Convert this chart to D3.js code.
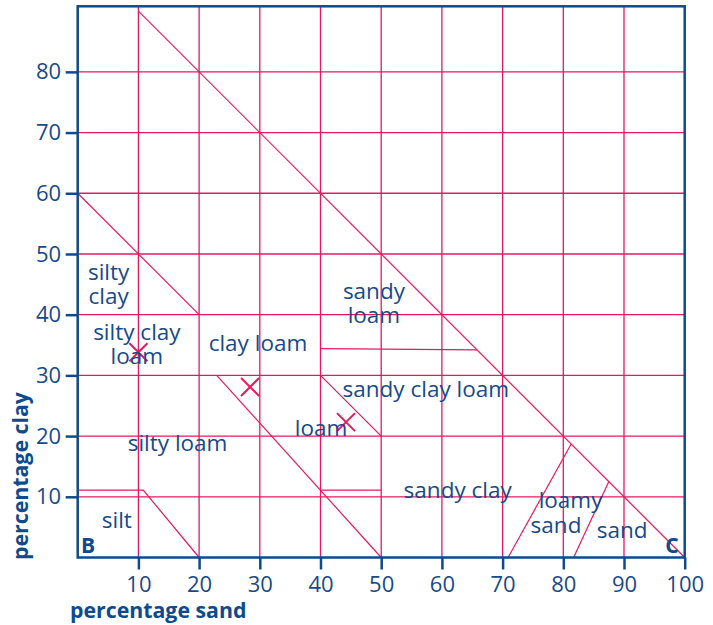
<!DOCTYPE html>
<html><head><meta charset="utf-8">
<script src="https://cdn.jsdelivr.net/npm/d3@7"></script>
<style>body{margin:0;background:#fff}</style>
</head><body>
<svg id="c" width="713" height="625"></svg>
<script>
// ---- data ----
const xTicks = [10,20,30,40,50,60,70,80,90,100];
const yTicks = [10,20,30,40,50,60,70,80];
const gridSand = [10,20,30,40,50,60,70,80,90];
const gridClay = [10,20,30,40,50,60,70,80];
const boundaries = [
  [[10,90],[100,0]],
  [[0,60],[20,40]],
  [[0,11.1],[10.8,11.1],[20,0]],
  [[22.9,30],[50,0]],
  [[40,11.1],[50,11.1]],
  [[40,30],[50,20]],
  [[40,34.4],[65.8,34.2]],
  [[70.9,0],[81.3,18.7]],
  [[81.7,0],[87.5,12.5]]
];
const samples = [[10,33.8],[28.4,28.1],[44.2,22.3]];
const labelLines = [["silty","clay"],["silty clay","loam"],["clay loam"],["sandy","loam"],
  ["sandy clay loam"],["loam"],["silty loam"],["silt"],["sandy clay"],["loamy"],["sand"],["sand"]];
const labelSand = [5.1,9.75,29.7,48.8,57.35,40.1,16.45,6.45,62.6,81.2,78.8,89.7];
const labelClay = [45.75,35.85,33.95,42.65,26.5,20.0,17.6,4.8,9.75,8.1,4.0,3.15];
const cornerText = ["B","C"];
const cornerSand = [0.55,99.0];
const cornerClay = [0.7,0.7];

// ---- drawing ----
const blue = "#0d4a8e", textBlue = "#174a8b", pink = "#e6195c";
const svg = d3.select("#c");
const x = d3.scaleLinear().domain([0,100]).range([77.7,684.7]);
const y = d3.scaleLinear().domain([0,90.8]).range([557.5,6.3]);
const font = "'Open Sans', 'Noto Sans', sans-serif";

const g = svg.append("g");
g.selectAll(".gx").data(gridSand).join("line")
  .attr("x1",d=>x(d)).attr("x2",d=>x(d)).attr("y1",y(0)).attr("y2",y(90.8))
  .attr("stroke",pink).attr("stroke-width",1.3);
g.selectAll(".gy").data(gridClay).join("line")
  .attr("y1",d=>y(d)).attr("y2",d=>y(d)).attr("x1",x(0)).attr("x2",x(100))
  .attr("stroke",pink).attr("stroke-width",1.3);

const line = d3.line().x(d=>x(d[0])).y(d=>y(d[1]));
g.selectAll(".b").data(boundaries).join("path")
  .attr("d",line).attr("fill","none").attr("stroke",pink).attr("stroke-width",1.2);

g.selectAll(".s").data(samples).join("path")
  .attr("d",d=>{const cx=x(d[0]),cy=y(d[1]),r=9;
    return `M${cx-r},${cy-r}L${cx+r},${cy+r}M${cx-r},${cy+r}L${cx+r},${cy-r}`;})
  .attr("stroke",pink).attr("stroke-width",2).attr("fill","none");

const labs = g.selectAll(".lab").data(labelLines).join("text")
  .attr("y",(d,i)=>y(labelClay[i]))
  .attr("text-anchor","middle").attr("font-family",font).attr("font-size",22.5)
  .attr("fill",textBlue);
labs.each(function(d,i){
  d3.select(this).selectAll("tspan").data(d).join("tspan")
    .attr("x",x(labelSand[i])).attr("dy",(t,j)=>j===0?0:24.5).text(t=>t);
});

g.selectAll(".corner").data(cornerText).join("text")
  .attr("x",(d,i)=>x(cornerSand[i])).attr("y",(d,i)=>y(cornerClay[i]))
  .attr("text-anchor",(d,i)=>i===0?"start":"end")
  .attr("font-family",font).attr("font-size",21).attr("font-weight","bold")
  .attr("fill",blue).text(d=>d);

// frame
svg.append("rect").attr("x",x(0)).attr("y",y(90.8))
  .attr("width",x(100)-x(0)).attr("height",y(0)-y(90.8))
  .attr("fill","none").attr("stroke",blue).attr("stroke-width",2.5);

// axes
const ax = svg.append("g").attr("transform",`translate(0,${y(0)})`)
  .call(d3.axisBottom(x).tickValues(xTicks).tickSize(12).tickPadding(6.5));
const ay = svg.append("g").attr("transform",`translate(${x(0)},0)`)
  .call(d3.axisLeft(y).tickValues(yTicks).tickSize(12).tickPadding(4.5));
[ax,ay].forEach(a=>{
  a.select(".domain").remove();
  a.selectAll("line").attr("stroke",blue).attr("stroke-width",2.5);
  a.selectAll("text").attr("fill",textBlue).attr("font-family",font).attr("font-size",22);
});

svg.append("text").attr("x",70).attr("y",618)
  .attr("font-family",font).attr("font-size",21.3).attr("font-weight","bold")
  .attr("fill",blue).text("percentage sand");
svg.append("text").attr("transform","translate(28,560) rotate(-90)")
  .attr("font-family",font).attr("font-size",21.3).attr("font-weight","bold")
  .attr("fill",blue).text("percentage clay");
</script>
</body></html>
